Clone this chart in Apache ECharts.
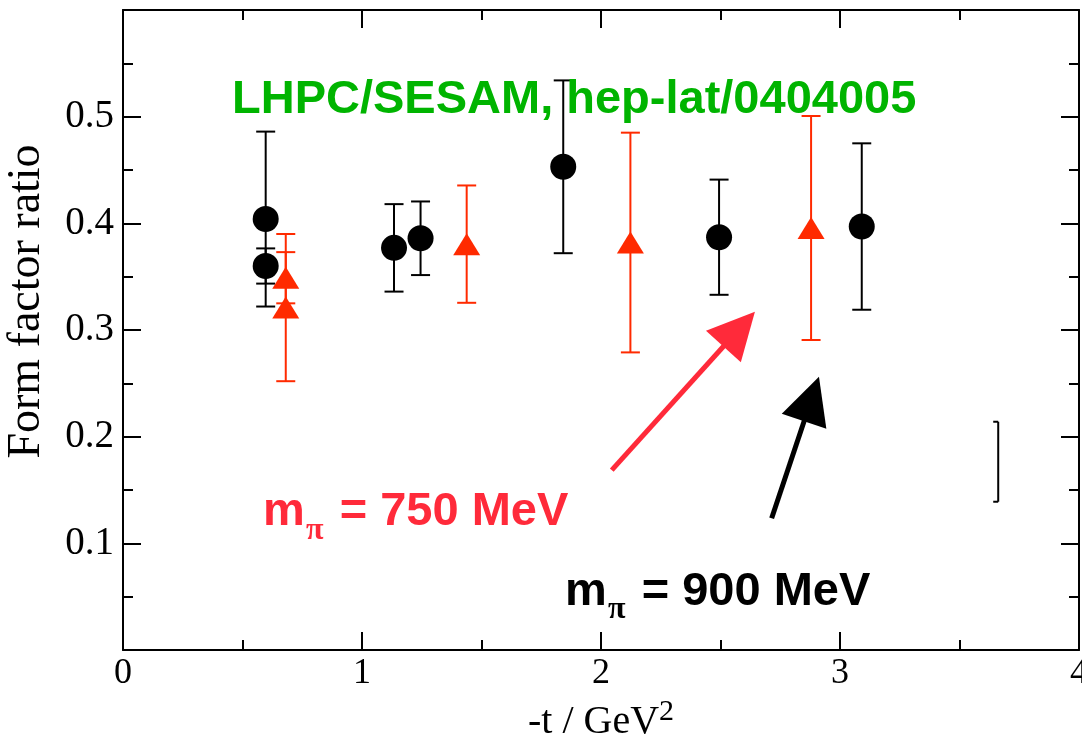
<!DOCTYPE html>
<html><head><meta charset="utf-8">
<script src="https://cdn.jsdelivr.net/npm/echarts@6/dist/echarts.min.js"></script>
<style>html,body{margin:0;padding:0;background:#fff}#c{width:1082px;height:740px}</style>
</head><body><div id="c"></div><script>
// tick labels
const xTickLabels = ['0','1','2','3','4'];
const yTickLabels = ['0.1','0.2','0.3','0.4','0.5'];
// m_pi = 900 MeV (black circles)
const blackX   = [0.597, 0.597, 1.134, 1.245, 1.842, 2.494, 3.091];
const blackY   = [0.404, 0.360, 0.377, 0.386, 0.453, 0.387, 0.397];
const blackErr = [0.082, 0.0165, 0.041, 0.0345, 0.081, 0.054, 0.078];
// m_pi = 750 MeV (red triangles)
const redX   = [0.681, 0.681, 1.438, 2.123, 2.879];
const redY   = [0.349, 0.321, 0.3805, 0.382, 0.3956];
const redErr = [0.024, 0.069, 0.055, 0.103, 0.105];
// lone bar without marker
const barX = [3.662];
const barLow = [0.139];
const barHigh = [0.214];
// arrows [xTail, yTail, xTip, yTip]
const arrowRed = [2.045, 0.1687, 2.644, 0.3172];
const arrowBlack = [2.714, 0.1235, 2.912, 0.2562];

const BLACK = '#000000';
const RED_MARK = '#ff2a00';
const RED_TXT = '#ff2a3a';
const GREEN = '#00b400';

function errRender(color, capW, lw) {
  return function (params, api) {
    const x = api.value(0), y = api.value(1), e = api.value(2);
    const t = api.coord([x, y + e]), b = api.coord([x, y - e]);
    const h = capW / 2;
    const st = {stroke: color, lineWidth: lw};
    return {type: 'group', children: [
      {type: 'line', shape: {x1: t[0], y1: t[1], x2: b[0], y2: b[1]}, style: st},
      {type: 'line', shape: {x1: t[0] - h, y1: t[1], x2: t[0] + h, y2: t[1]}, style: st},
      {type: 'line', shape: {x1: b[0] - h, y1: b[1], x2: b[0] + h, y2: b[1]}, style: st}
    ]};
  };
}
function barRender(params, api) {
  const x = api.value(0);
  const t = api.coord([x, api.value(2)]), b = api.coord([x, api.value(1)]);
  const st = {stroke: BLACK, lineWidth: 2};
  return {type: 'group', children: [
    {type: 'line', shape: {x1: t[0], y1: t[1], x2: b[0], y2: b[1]}, style: st},
    {type: 'line', shape: {x1: t[0] - 5, y1: t[1], x2: t[0], y2: t[1]}, style: st},
    {type: 'line', shape: {x1: b[0] - 5, y1: b[1], x2: b[0], y2: b[1]}, style: st}
  ]};
}
function arrowRender(color) {
  return function (params, api) {
    const p0 = api.coord([api.value(0), api.value(1)]);
    const p1 = api.coord([api.value(2), api.value(3)]);
    const dx = p1[0] - p0[0], dy = p1[1] - p0[1];
    const L = Math.hypot(dx, dy), ux = dx / L, uy = dy / L;
    const hl = 47, hw = 23.5;
    const bx = p1[0] - ux * hl, by = p1[1] - uy * hl;
    return {type: 'group', children: [
      {type: 'line', shape: {x1: p0[0], y1: p0[1], x2: bx + ux * 3, y2: by + uy * 3},
       style: {stroke: color, lineWidth: 5}},
      {type: 'polygon', shape: {points: [[p1[0], p1[1]], [bx - uy * hw, by + ux * hw], [bx + uy * hw, by - ux * hw]]},
       style: {fill: color}}
    ]};
  };
}

const blackData = blackX.map((x, i) => [x, blackY[i], blackErr[i]]);
const redData = redX.map((x, i) => [x, redY[i], redErr[i]]);
const barData = barX.map((x, i) => [x, barLow[i], barHigh[i]]);

const axisCommon = {
  axisLine: {show: true, onZero: false, lineStyle: {color: BLACK, width: 2}},
  axisTick: {show: true, inside: true, length: 18, lineStyle: {color: BLACK, width: 2}},
  minorTick: {show: true, splitNumber: 2, length: 10, lineStyle: {color: BLACK, width: 2}},
  splitLine: {show: false}
};

const chart = echarts.init(document.getElementById('c'), null, {renderer: 'canvas'});
chart.setOption({
  animation: false,
  backgroundColor: '#ffffff',
  grid: {left: 123, right: 3, top: 10, bottom: 90, containLabel: false, outerBoundsMode: 'none'},
  xAxis: [
    Object.assign({
      type: 'value', min: 0, max: 4, interval: 1, position: 'bottom',
      axisLabel: {fontFamily: 'Liberation Serif', fontSize: 36, color: BLACK, margin: 6,
        formatter: v => { const s = String(v); return xTickLabels.includes(s) ? s : ''; }},
      name: '{b|-t / GeV}{sup|2}', nameLocation: 'middle', nameGap: 43,
      nameTextStyle: {fontFamily: 'Liberation Serif', fontSize: 40, color: BLACK,
        rich: {
          b: {fontFamily: 'Liberation Serif', fontSize: 40, color: BLACK, verticalAlign: 'bottom'},
          sup: {fontFamily: 'Liberation Serif', fontSize: 30, color: BLACK, verticalAlign: 'bottom', padding: [0, 0, 16, 0]}
        }}
    }, axisCommon),
    Object.assign({
      type: 'value', min: 0, max: 4, interval: 1, position: 'top', axisLabel: {show: false}
    }, axisCommon)
  ],
  yAxis: [
    Object.assign({
      type: 'value', min: 0, max: 0.6, interval: 0.1, position: 'left',
      axisLabel: {fontFamily: 'Liberation Serif', fontSize: 39, color: BLACK, margin: 9,
        formatter: v => { const s = v.toFixed(1); return yTickLabels.includes(s) ? s : ''; }}
    }, axisCommon),
    Object.assign({
      type: 'value', min: 0, max: 0.6, interval: 0.1, position: 'right', axisLabel: {show: false}
    }, axisCommon)
  ],
  series: [
    {type: 'custom', name: 'bar', renderItem: barRender, data: barData, encode: {x: 0, y: [1, 2]}, z: 2},
    {type: 'custom', name: 'err900', renderItem: errRender(BLACK, 19, 2), data: blackData, encode: {x: 0, y: [1]}, z: 2},
    {type: 'scatter', name: 'mpi900', data: blackData, symbol: 'circle', symbolSize: 26,
      itemStyle: {color: BLACK, opacity: 1}, z: 3},
    {type: 'custom', name: 'err750', renderItem: errRender(RED_MARK, 19, 2), data: redData, encode: {x: 0, y: [1]}, z: 4},
    {type: 'scatter', name: 'mpi750', data: redData, symbol: 'triangle', symbolSize: [27, 22],
      itemStyle: {color: RED_MARK, opacity: 1}, z: 5},
    {type: 'custom', name: 'arrow750', renderItem: arrowRender(RED_TXT), data: [arrowRed], encode: {x: [0, 2], y: [1, 3]}, z: 6},
    {type: 'custom', name: 'arrow900', renderItem: arrowRender(BLACK), data: [arrowBlack], encode: {x: [0, 2], y: [1, 3]}, z: 6}
  ],
  graphic: [
    {type: 'text', x: 232, y: 100.5, z: 10, style: {text: 'LHPC/SESAM, hep-lat/0404005', font: 'bold 47px "Liberation Sans"',
      fill: GREEN, textAlign: 'left', textVerticalAlign: 'middle', align: 'left', verticalAlign: 'middle'}},
    {type: 'text', x: 263, y: 512, z: 10, style: {text: 'm', font: 'bold 47px "Liberation Sans"', fill: RED_TXT,
      textAlign: 'left', textVerticalAlign: 'middle', align: 'left', verticalAlign: 'middle'}},
    {type: 'text', x: 306, y: 531, z: 10, style: {text: 'π', font: 'bold 32px "Liberation Serif"', fill: RED_TXT,
      textAlign: 'left', textVerticalAlign: 'middle', align: 'left', verticalAlign: 'middle'}},
    {type: 'text', x: 339.7, y: 512, z: 10, style: {text: '= 750 MeV', font: 'bold 47px "Liberation Sans"', fill: RED_TXT,
      textAlign: 'left', textVerticalAlign: 'middle', align: 'left', verticalAlign: 'middle'}},
    {type: 'text', x: 565, y: 592, z: 10, style: {text: 'm', font: 'bold 47px "Liberation Sans"', fill: BLACK,
      textAlign: 'left', textVerticalAlign: 'middle', align: 'left', verticalAlign: 'middle'}},
    {type: 'text', x: 608, y: 610, z: 10, style: {text: 'π', font: 'bold 32px "Liberation Serif"', fill: BLACK,
      textAlign: 'left', textVerticalAlign: 'middle', align: 'left', verticalAlign: 'middle'}},
    {type: 'text', x: 641.7, y: 592, z: 10, style: {text: '= 900 MeV', font: 'bold 47px "Liberation Sans"', fill: BLACK,
      textAlign: 'left', textVerticalAlign: 'middle', align: 'left', verticalAlign: 'middle'}},
    {type: 'text', x: 27, y: 301.5, rotation: Math.PI / 2, z: 10, style: {text: 'Form factor ratio', font: '46px "Liberation Serif"',
      fill: BLACK, textAlign: 'center', textVerticalAlign: 'middle', align: 'center', verticalAlign: 'middle'}}
  ]
});
</script></body></html>
